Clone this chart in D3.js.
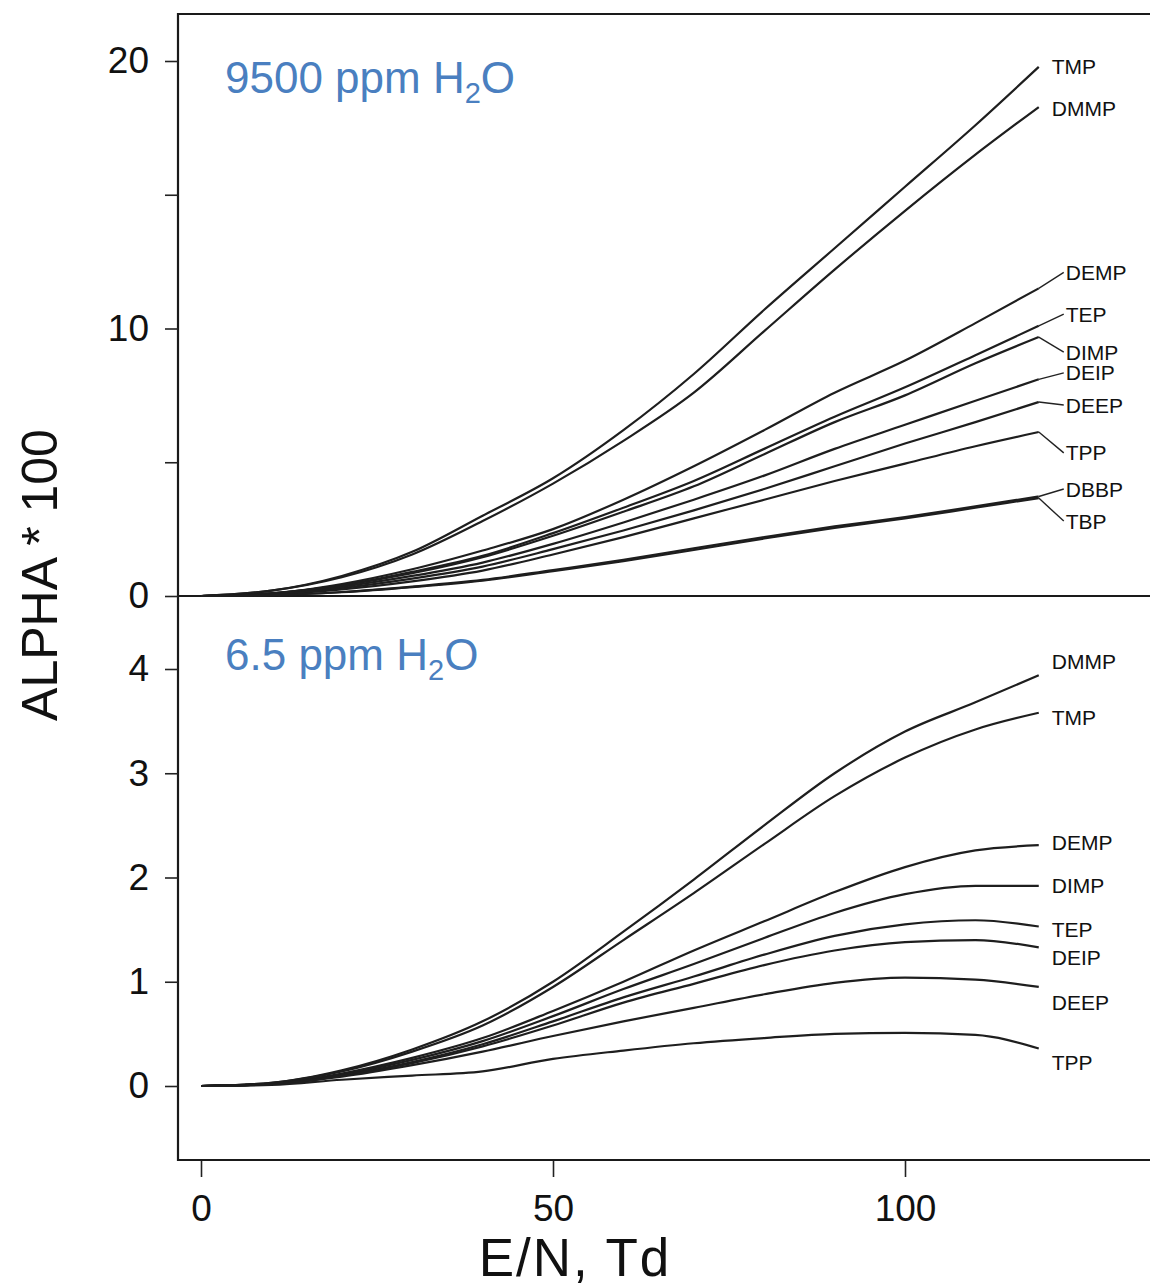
<!DOCTYPE html>
<html>
<head>
<meta charset="utf-8">
<script src="https://cdn.jsdelivr.net/npm/d3@7"></script>
<style>
  body { margin: 0; background: #fff; }
  text { font-family: "Liberation Sans", Arial, sans-serif; }
</style>
</head>
<body>
<svg id="chart" width="1150" height="1287"></svg>
<script>
"use strict";

var enValues = [0, 10, 20, 30, 40, 50, 60, 70, 80, 90, 100, 110, 119];

// upper panel, 9500 ppm H2O
var wetNames = ["TMP", "DMMP", "DEMP", "TEP", "DIMP", "DEIP", "DEEP", "TPP", "DBBP", "TBP"];
var wetTMP  = [0, 0.2, 0.75, 1.65, 3.0, 4.4, 6.2, 8.3, 10.7, 13.0, 15.3, 17.6, 19.78];
var wetDMMP = [0, 0.2, 0.7, 1.55, 2.8, 4.2, 5.8, 7.6, 9.9, 12.2, 14.4, 16.5, 18.28];
var wetDEMP = [0, 0.1, 0.45, 1.0, 1.7, 2.5, 3.6, 4.85, 6.2, 7.6, 8.8, 10.2, 11.5];
var wetTEP  = [0, 0.1, 0.4, 0.9, 1.5, 2.35, 3.3, 4.3, 5.5, 6.7, 7.8, 9.0, 10.1];
var wetDIMP = [0, 0.1, 0.4, 0.85, 1.45, 2.25, 3.15, 4.1, 5.3, 6.5, 7.5, 8.7, 9.68];
var wetDEIP = [0, 0.08, 0.35, 0.75, 1.25, 1.95, 2.75, 3.6, 4.5, 5.5, 6.4, 7.3, 8.1];
var wetDEEP = [0, 0.07, 0.3, 0.65, 1.1, 1.75, 2.45, 3.2, 4.0, 4.85, 5.7, 6.5, 7.25];
var wetTPP  = [0, 0.06, 0.25, 0.55, 0.95, 1.55, 2.2, 2.9, 3.6, 4.3, 4.95, 5.6, 6.13];
var wetDBBP = [0, 0.03, 0.15, 0.35, 0.6, 0.97, 1.35, 1.78, 2.2, 2.6, 2.95, 3.35, 3.72];
var wetTBP  = [0, 0.03, 0.14, 0.33, 0.57, 0.93, 1.3, 1.72, 2.15, 2.55, 2.9, 3.3, 3.66];
var wetLabelAt = [19.8, 18.24, 12.1, 10.54, 9.12, 8.34, 7.14, 5.35, 4.0, 2.8];
var wetLeader  = [false, false, true, true, true, true, true, true, true, true];

// lower panel, 6.5 ppm H2O
var dryNames = ["DMMP", "TMP", "DEMP", "DIMP", "TEP", "DEIP", "DEEP", "TPP"];
var dryDMMP = [0, 0.03, 0.15, 0.35, 0.62, 1.0, 1.48, 1.98, 2.5, 3.0, 3.4, 3.68, 3.94];
var dryTMP  = [0, 0.03, 0.14, 0.33, 0.58, 0.95, 1.4, 1.85, 2.32, 2.78, 3.15, 3.42, 3.58];
var dryDEMP = [0, 0.02, 0.12, 0.27, 0.46, 0.72, 1.0, 1.3, 1.58, 1.86, 2.1, 2.26, 2.31];
var dryDIMP = [0, 0.02, 0.11, 0.25, 0.43, 0.67, 0.93, 1.17, 1.42, 1.66, 1.84, 1.92, 1.92];
var dryTEP  = [0, 0.02, 0.1, 0.23, 0.4, 0.62, 0.85, 1.05, 1.26, 1.44, 1.55, 1.59, 1.53];
var dryDEIP = [0, 0.02, 0.1, 0.22, 0.38, 0.58, 0.8, 0.98, 1.16, 1.3, 1.38, 1.4, 1.33];
var dryDEEP = [0, 0.02, 0.09, 0.2, 0.33, 0.48, 0.62, 0.75, 0.88, 0.99, 1.04, 1.02, 0.95];
var dryTPP  = [0, 0.01, 0.06, 0.1, 0.14, 0.26, 0.34, 0.41, 0.46, 0.5, 0.51, 0.49, 0.36];
var dryLabelAt = [4.07, 3.54, 2.34, 1.92, 1.5, 1.23, 0.8, 0.23];

var xTicks = [0, 50, 100];
var wetTicks = [0, 5, 10, 15, 20];
var wetTickLabels = [0, 10, 20];
var dryTicks = [0, 1, 2, 3, 4];

var wetSeries = [wetTMP, wetDMMP, wetDEMP, wetTEP, wetDIMP, wetDEIP, wetDEEP, wetTPP, wetDBBP, wetTBP];
var drySeries = [dryDMMP, dryTMP, dryDEMP, dryDIMP, dryTEP, dryDEIP, dryDEEP, dryTPP];

var svg = d3.select("#chart");

var frameLeft = 178, frameTop = 14, frameRight = 1150, frameBottom = 1160, split = 596;

var x = d3.scaleLinear().domain([0, 100]).range([201, 905]);
var yWet = d3.scaleLinear().domain([0, 20]).range([596, 61]);
var yDry = d3.scaleLinear().domain([0, 4]).range([1086, 669]);

// frame
svg.append("path")
    .attr("d", "M" + frameRight + "," + frameTop + "H" + frameLeft + "V" + frameBottom + "H" + frameRight)
    .attr("fill", "none").attr("stroke", "#1a1a1a").attr("stroke-width", 2.2);
svg.append("line")
    .attr("x1", frameLeft).attr("x2", frameRight).attr("y1", split).attr("y2", split)
    .attr("stroke", "#1a1a1a").attr("stroke-width", 2);

// y axes (ticks pointing out to the left)
var axisWet = d3.axisLeft(yWet).tickValues(wetTicks).tickSize(13).tickPadding(16)
    .tickFormat(function(d) { return wetTickLabels.indexOf(d) >= 0 ? d : ""; });
var gWet = svg.append("g").attr("transform", "translate(" + frameLeft + ",0)").call(axisWet);

var axisDry = d3.axisLeft(yDry).tickValues(dryTicks).tickSize(13).tickPadding(16)
    .tickFormat(d3.format("d"));
var gDry = svg.append("g").attr("transform", "translate(" + frameLeft + ",0)").call(axisDry);

var axisX = d3.axisBottom(x).tickValues(xTicks).tickSize(16).tickPadding(14);
var gX = svg.append("g").attr("transform", "translate(0," + (frameBottom + 1) + ")").call(axisX);

[gWet, gDry, gX].forEach(function(g) {
  g.select(".domain").remove();
  g.selectAll(".tick line").attr("stroke", "#222").attr("stroke-width", 1.6);
  g.selectAll(".tick text").attr("fill", "#111").style("font-size", "37px");
});
gX.selectAll(".tick text").attr("dy", "0.8em");

// axis titles
svg.append("text")
    .attr("transform", "translate(57,575) rotate(-90)")
    .attr("text-anchor", "middle")
    .style("font-size", "50px").attr("fill", "#111")
    .text("ALPHA * 100");
svg.append("text")
    .attr("x", 575).attr("y", 1276)
    .attr("text-anchor", "middle")
    .style("font-size", "53px").style("letter-spacing", "2px").attr("fill", "#111")
    .text("E/N, Td");

// panel notes
function note(yPos, main) {
  var t = svg.append("text").attr("x", 225).attr("y", yPos)
      .style("font-size", "44px").attr("fill", "#4a7fc0");
  t.append("tspan").text(main + " ppm H");
  t.append("tspan").attr("dy", 10).style("font-size", "29px").text("2");
  t.append("tspan").attr("dy", -10).text("O");
}
note(93, "9500");
note(670, "6.5");

var line = d3.line().curve(d3.curveMonotoneX);

function drawPanel(series, names, y, labelAt, leader) {
  var g = svg.append("g");
  series.forEach(function(vals, i) {
    var pts = vals.map(function(v, j) { return [x(enValues[j]), y(v)]; });
    g.append("path")
        .attr("d", line(pts))
        .attr("fill", "none").attr("stroke", "#1e1e1e").attr("stroke-width", 2.2);
    var end = pts[pts.length - 1];
    var hasLeader = leader && leader[i];
    var tx = end[0] + (hasLeader ? 27 : 13);
    var ty = y(labelAt[i]);
    if (hasLeader) {
      g.append("line")
          .attr("x1", end[0]).attr("y1", end[1])
          .attr("x2", tx - 2).attr("y2", ty)
          .attr("stroke", "#222").attr("stroke-width", 1.4);
    }
    g.append("text")
        .attr("x", tx).attr("y", ty).attr("dy", "0.36em")
        .style("font-size", "21px").attr("fill", "#111")
        .text(names[i]);
  });
}

drawPanel(wetSeries, wetNames, yWet, wetLabelAt, wetLeader);
drawPanel(drySeries, dryNames, yDry, dryLabelAt, null);
</script>
</body>
</html>
